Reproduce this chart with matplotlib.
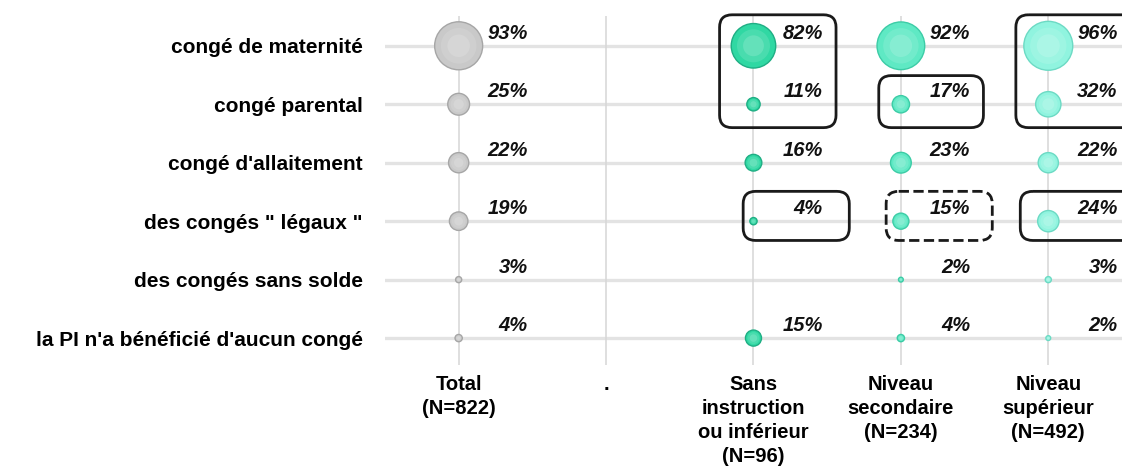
import numpy as np
import matplotlib
matplotlib.use("Agg")
import matplotlib.pyplot as plt
from matplotlib.patches import FancyBboxPatch

# Données (en %)
categories = [
    "congé de maternité",
    "congé parental",
    "congé d'allaitement",
    'des congés " légaux "',
    "des congés sans solde",
    "la PI n'a bénéficié d'aucun congé",
]
groupes = [
    "Total\n(N=822)",
    ".",
    "Sans\ninstruction\nou inférieur\n(N=96)",
    "Niveau\nsecondaire\n(N=234)",
    "Niveau\nsupérieur\n(N=492)",
]
total = [93, 25, 22, 19, 3, 4]
sans_instruction = [82, 11, 16, 4, np.nan, 15]
secondaire = [92, 17, 23, 15, 2, 4]
superieur = [96, 32, 22, 24, 3, 2]

series = [
    (0, total, "#c9c9c9", "#a6a6a6"),
    (2, sans_instruction, "#30d8a3", "#1fae84"),
    (3, secondaire, "#5fe9c4", "#3ccca6"),
    (4, superieur, "#90f4df", "#6cdac4"),
]

plt.rcParams["font.family"] = ["Liberation Sans", "DejaVu Sans"]

fig = plt.figure(figsize=(11.22, 4.74), dpi=100)
ax = fig.add_axes([0.3431, 0.2300, 0.6569, 0.7363])

rows = np.arange(len(categories))

# grille
for r in rows:
    ax.axhline(r, color="#e3e3e3", lw=2.4, zorder=0)
for c in range(len(groupes)):
    ax.axvline(c, color="#d6d6d6", lw=1.1, zorder=0)


def taille(v):
    v = np.asarray(v, dtype=float)
    return 1194 * (v / 93.0) ** 1.2


for col, vals, face, edge in series:
    vals = np.asarray(vals, dtype=float)
    ok = ~np.isnan(vals)
    x = np.full(ok.sum(), col)
    y = rows[ok]
    s = taille(vals[ok])
    ax.scatter(x, y, s=s, color=face, edgecolors=edge, linewidths=1.0, zorder=3)
    # reflet doux au centre
    ax.scatter(x, y, s=s * 0.55, color="white", alpha=0.12, linewidths=0, zorder=4)
    ax.scatter(x, y, s=s * 0.22, color="white", alpha=0.15, linewidths=0, zorder=4)
    for yy, v in zip(y, vals[ok]):
        ax.text(col + 0.47, yy - 0.21, f"{int(v)}%", ha="right", va="center",
                fontsize=14.5, fontweight="bold", fontstyle="italic",
                color="#111111", zorder=5, clip_on=False)

# encadrés
encadres = [
    # (colonne, x0, x1, y0, y1, style)
    (2, -0.23, 0.56, -0.53, 1.40, "-"),
    (3, -0.15, 0.56, 0.51, 1.40, "-"),
    (4, -0.22, 0.62, -0.53, 1.40, "-"),
    (2, -0.07, 0.65, 2.49, 3.33, "-"),
    (3, -0.10, 0.62, 2.49, 3.33, "--"),
    (4, -0.19, 0.62, 2.49, 3.33, "-"),
]
for col, x0, x1, y0, y1, ls in encadres:
    p = FancyBboxPatch((col + x0, y0), x1 - x0, y1 - y0,
                       boxstyle="round,pad=0,rounding_size=0.085",
                       mutation_aspect=2.5, fill=False, ec="#1a1a1a",
                       lw=2.0, ls=ls, zorder=6, clip_on=False)
    ax.add_patch(p)

ax.set_xlim(-0.5, 4.5)
ax.set_ylim(5.46, -0.51)
ax.set_yticks(rows)
ax.set_yticklabels(categories, fontsize=15, fontweight="bold")
ax.set_xticks(range(len(groupes)))
ax.set_xticklabels(groupes, fontsize=14.5, fontweight="bold", linespacing=1.35)
ax.tick_params(axis="y", length=0, pad=16)
ax.tick_params(axis="x", length=0, pad=7)
for sp in ax.spines.values():
    sp.set_visible(False)

fig.savefig("out.png", dpi=100)
